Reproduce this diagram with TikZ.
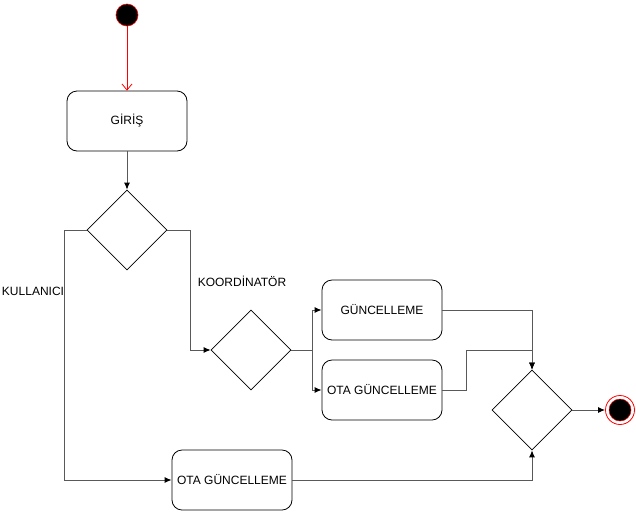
\documentclass[tikz,border=0pt]{standalone}
\usepackage{fontspec}
\setmainfont{Liberation Sans}
\usetikzlibrary{shapes.geometric,arrows.meta}
\begin{document}
\begin{tikzpicture}[x=1pt,y=-1pt,
  font=\fontsize{12}{14}\selectfont,
  box/.style={draw=black,line width=0.8pt,rounded corners=10pt,minimum width=120pt,minimum height=60pt,inner sep=0pt},
  dec/.style={draw=black,line width=0.6pt,shape=diamond,minimum width=80pt,minimum height=80pt,inner sep=0pt},
  conn/.style={draw=black!65,line width=1pt,-{Latex[length=7pt,width=6pt,black]}},
  plain/.style={draw=black!65,line width=1pt}]
\useasboundingbox (0,0) rectangle (636,512);
\node[circle,fill=black,draw=red,line width=0.6pt,minimum size=22pt,inner sep=0pt] (start) at (127,15) {};
\node[box] (giris) at (127,121) {GİRİŞ};
\node[dec] (d1) at (127,230) {};
\node[dec] (d2) at (251,350) {};
\node[box] (gunc) at (382,310) {GÜNCELLEME};
\node[box] (ota1) at (382,390) {OTA GÜNCELLEME};
\node[box] (ota2) at (232,480) {OTA GÜNCELLEME};
\node[dec] (d3) at (532,410) {};
\node[circle,draw=red,line width=0.8pt,minimum size=29pt,inner sep=0pt] (endo) at (620,410) {};
\node[circle,fill=black,draw=red,line width=0.5pt,minimum size=22pt,inner sep=0pt] (endi) at (endo.center) {};
\node (kul) at (33,291) {KULLANICI};
\node (koor) at (242,281) {KOORDİNATÖR};
\draw[draw=red,line width=0.8pt,-{Straight Barb[length=6pt,width=10pt]}] (start.south) -- (giris.north);
\draw[conn] (giris.south) -- (d1.north);
\draw[conn] (d1.west) -- ++(-22,0) |- (ota2.west);
\draw[conn] (d1.east) -- ++(23,0) |- (d2.west);
\draw[plain] (d2.east) -- ++(21,0) coordinate (split);
\draw[conn] (split) |- (gunc.west);
\draw[conn] (split) |- (ota1.west);
\draw[conn] (gunc.east) -| (d3.north);
\draw[conn] (ota1.east) -- ++(24,0) -- ++(0,-40) -| (d3.north);
\draw[conn] (ota2.east) -| (d3.south);
\draw[conn] (d3.east) -- (endo.west);
\end{tikzpicture}
\end{document}
